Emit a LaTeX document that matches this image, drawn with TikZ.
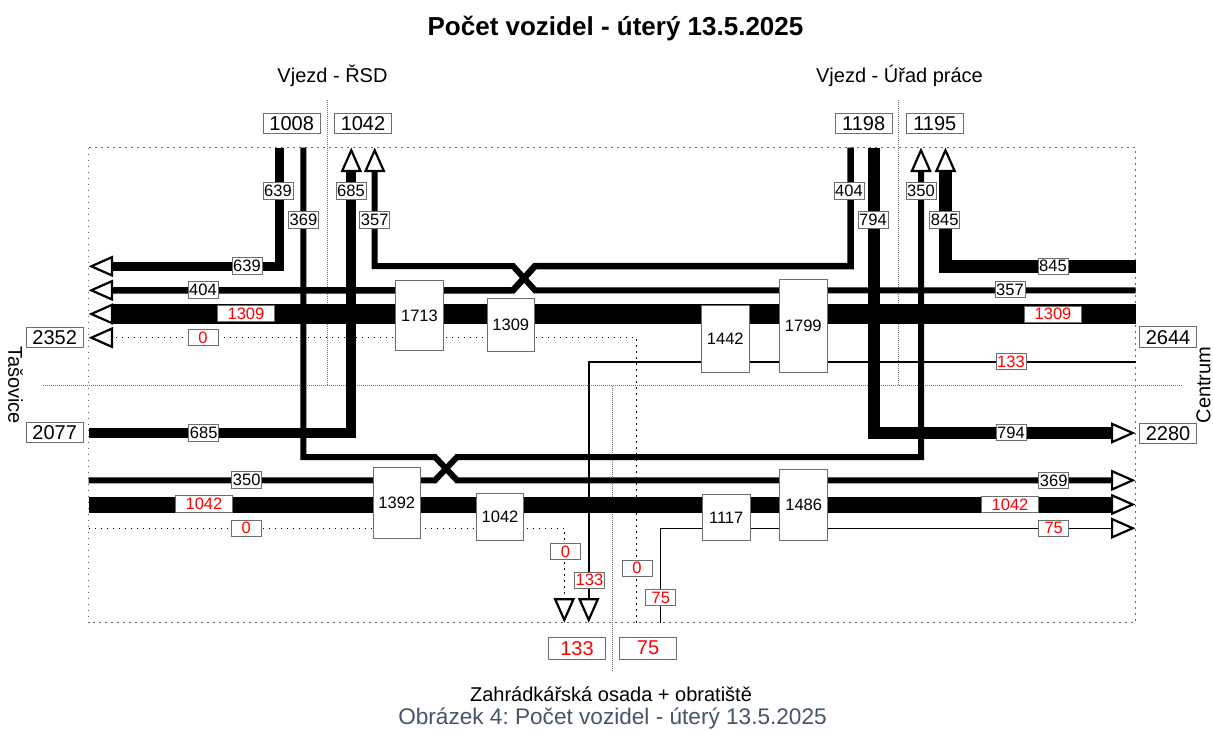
\documentclass[tikz,border=0pt]{standalone}
\usepackage{fontspec}
\setmainfont{Liberation Sans}
\usetikzlibrary{arrows.meta}
\definecolor{capblue}{RGB}{68,84,106}
\definecolor{boxgray}{RGB}{110,110,110}
\newcommand{\fs}[1]{\fontsize{#1}{#1}\selectfont}
\frenchspacing
\tikzset{
  flowtip/.style={-{Triangle[length=24.5pt 0 0,width=21pt 0 0,fill=white,line width=2.2pt]}},
  flow/.style={draw=black,line join=miter,line cap=butt},
  zero/.style={draw=black,line width=1.3pt,dash pattern=on 1.5pt off 4.5pt},
  frame/.style={draw=black!60,line width=1.2pt,dash pattern=on 1.5pt off 4.5pt},
  divider/.style={draw=black!55,line width=0.9pt,dash pattern=on 1pt off 1pt},
  jbox/.style={draw=boxgray,fill=white,line width=1pt,minimum width=47.6pt,inner sep=0pt,font=\fs{16.5}},
  lbl/.style={draw=boxgray,fill=white,line width=1pt,minimum width=30pt,minimum height=16.5pt,inner sep=0.5pt,font=\fs{16.5}},
  lblw/.style={lbl,minimum width=56.5pt,text=red},
  lblr/.style={lbl,text=red},
  cnt/.style={draw=boxgray,fill=white,line width=1pt,minimum width=57.3pt,minimum height=20.5pt,inner sep=0pt,font=\fs{20}},
  cntr/.style={cnt,minimum height=21.7pt,text=red},
  plain/.style={inner sep=0pt,font=\fs{20}}
}
\begin{document}
\begin{tikzpicture}[x=1pt,y=-1pt]
\useasboundingbox (0,0) rectangle (1213,729);
% frame and dividers
\coordinate (frTL) at (88.5,147.5);
\coordinate (frBR) at (1135.5,622.7);
\draw[frame] (frTL) rectangle (frBR);
\coordinate (dv1a) at (327,100); \coordinate (dv1b) at (327,385.5);
\coordinate (dv2a) at (898,100); \coordinate (dv2b) at (898,385.5);
\coordinate (dvha) at (43,385.5); \coordinate (dvhb) at (1183,385.5);
\coordinate (dv3a) at (612.7,385.5); \coordinate (dv3b) at (612.7,670);
\draw[divider] (dv1a) -- (dv1b);
\draw[divider] (dv2a) -- (dv2b);
\draw[divider] (dvha) -- (dvhb);
\draw[divider] (dv3a) -- (dv3b);

% coordinates of flows
\coordinate (a639s) at (279.5,147.5); \coordinate (a639c) at (279.5,266.3); \coordinate (a639e) at (88.5,266.3);
\coordinate (b369s) at (303.3,147.5); \coordinate (b369c) at (303.3,457); \coordinate (b369x1) at (435,457); \coordinate (b369x2) at (457,480.3); \coordinate (b369e) at (1135.5,480.3);
\coordinate (c350s) at (88.5,480.3); \coordinate (c350x1) at (435,480.3); \coordinate (c350x2) at (457,457); \coordinate (c350c) at (921,457); \coordinate (c350e) at (921,147.5);
\coordinate (d685s) at (88.5,433); \coordinate (d685c) at (351.3,433); \coordinate (d685e) at (351.3,147.5);
\coordinate (e357s) at (1135.5,290.3); \coordinate (e357x1) at (535,290.3); \coordinate (e357x2) at (513,266); \coordinate (e357c) at (374.7,266); \coordinate (e357e) at (374.7,147.5);
\coordinate (f404s) at (850.7,147.5); \coordinate (f404c) at (850.7,266); \coordinate (f404x1) at (535,266); \coordinate (f404x2) at (513,290.3); \coordinate (f404e) at (88.5,290.3);
\coordinate (g1309s) at (1135.5,314); \coordinate (g1309e) at (88.5,314);
\coordinate (h845s) at (1135.5,266.7); \coordinate (h845c) at (945.5,266.7); \coordinate (h845e) at (945.5,147.5);
\coordinate (i794s) at (873.7,147.5); \coordinate (i794c) at (873.7,433); \coordinate (i794e) at (1135.5,433);
\coordinate (j1042s) at (88.5,504.5); \coordinate (j1042e) at (1135.5,504.5);
\coordinate (k133s) at (1135.5,361.7); \coordinate (k133c) at (588.7,361.7); \coordinate (k133e) at (588.7,622.7);
\coordinate (l75s) at (660.5,622.7); \coordinate (l75c) at (660.5,528.2); \coordinate (l75e) at (1135.5,528.2);
\coordinate (m0s) at (636.3,622.7); \coordinate (m0c) at (636.3,337.7); \coordinate (m0e) at (88.5,337.7);
\coordinate (n0s) at (88.5,528.2); \coordinate (n0c) at (564.3,528.2); \coordinate (n0e) at (564.3,622.7);

% flows
\draw[flow,flowtip,line width=20pt] (g1309s) -- (g1309e);
\draw[flow,flowtip,line width=16pt] (j1042s) -- (j1042e);
\draw[flow,flowtip,line width=9.5pt] (a639s) -- (a639c) -- (a639e);
\draw[flow,flowtip,line width=6.5pt] (f404s) -- (f404c) -- (f404x1) -- (f404x2) -- (f404e);
\draw[flow,flowtip,line width=6pt] (e357s) -- (e357x1) -- (e357x2) -- (e357c) -- (e357e);
\draw[flow,flowtip,line width=13pt] (h845s) -- (h845c) -- (h845e);
\draw[flow,flowtip,line width=6pt] (c350s) -- (c350x1) -- (c350x2) -- (c350c) -- (c350e);
\draw[flow,flowtip,line width=6pt] (b369s) -- (b369c) -- (b369x1) -- (b369x2) -- (b369e);
\draw[flow,flowtip,line width=10pt] (d685s) -- (d685c) -- (d685e);
\draw[flow,flowtip,line width=12pt] (i794s) -- (i794c) -- (i794e);
\draw[flow,flowtip,line width=2pt] (k133s) -- (k133c) -- (k133e);
\draw[flow,flowtip,line width=1.3pt] (l75s) -- (l75c) -- (l75e);
\draw[zero,flowtip] (m0s) -- (m0c) -- (m0e);
\draw[zero,flowtip] (n0s) -- (n0c) -- (n0e);

% junction boxes
\node[jbox,minimum height=70pt] (j1713) at (419.5,315.7) {1713};
\node[jbox,minimum height=52.7pt] (j1309) at (510.8,325.3) {1309};
\node[jbox,minimum height=67.3pt] (j1442) at (725.3,338.7) {1442};
\node[jbox,minimum height=93.4pt] (j1799) at (803.3,326) {1799};
\node[jbox,minimum height=71.3pt] (j1392) at (396.8,503.3) {1392};
\node[jbox,minimum height=46.7pt] (j1042) at (500,516.7) {1042};
\node[jbox,minimum height=46.4pt] (j1117) at (726.2,517.5) {1117};
\node[jbox,minimum height=71pt] (j1486) at (803.7,504.5) {1486};

% flow labels
\node[lbl] (t639v) at (278,191) {639};
\node[lbl] (t369v) at (303.5,220) {369};
\node[lbl] (t685v) at (351,191) {685};
\node[lbl] (t357v) at (374.7,220) {357};
\node[lbl] (t639h) at (247,266) {639};
\node[lbl] (t404h) at (203,290) {404};
\node[lblw] (t1309l) at (246,313.7) {1309};
\node[lblr] (t0l) at (203,337.5) {0};
\node[lbl] (t404v) at (849,191) {404};
\node[lbl] (t794v) at (873,220) {794};
\node[lbl] (t350v) at (921,191) {350};
\node[lbl] (t845v) at (944.7,220) {845};
\node[lbl] (t845h) at (1053,266.3) {845};
\node[lbl] (t357h) at (1010,289.7) {357};
\node[lblw] (t1309r) at (1053,314.3) {1309};
\node[lblr] (t133h) at (1011,361.7) {133};
\node[lbl] (t794h) at (1011,432.7) {794};
\node[lbl] (t369h) at (1053.7,480.5) {369};
\node[lblw] (t1042r) at (1010,504.7) {1042};
\node[lblr] (t75h) at (1053.7,528.3) {75};
\node[lbl] (t685h) at (203.7,433) {685};
\node[lbl] (t350h) at (246.7,480) {350};
\node[lblw] (t1042l) at (204,504) {1042};
\node[lblr] (t0b) at (246.3,528.3) {0};
\node[lblr] (t0d1) at (565.5,551.7) {0};
\node[lblr] (t133v) at (589.5,580.3) {133};
\node[lblr] (t0d2) at (637,568.3) {0};
\node[lblr] (t75v) at (660.8,597.5) {75};

% count boxes
\node[cnt] (n1008) at (291.7,123.3) {1008};
\node[cnt] (n1042) at (363,123.3) {1042};
\node[cnt] (n1198) at (863.7,123.3) {1198};
\node[cnt] (n1195) at (934.8,123.3) {1195};
\node[cnt] (n2644) at (1168,337.2) {2644};
\node[cnt] (n2280) at (1168,433.3) {2280};
\node[cnt] (n2352) at (54.7,337.5) {2352};
\node[cnt] (n2077) at (54.7,432.5) {2077};
\node[cntr] (n133) at (577,648.2) {133};
\node[cntr] (n75) at (648,648.2) {75};

% texts
\node[inner sep=0pt,font=\fs{26}\bfseries] (title) at (615.5,28) {Počet vozidel - úterý 13.5.2025};
\node[plain] (vjl) at (332.5,76) {Vjezd - ŘSD};
\node[plain] (vjr) at (899.5,76) {Vjezd - Úřad práce};
\node[plain] (zah) at (611,694) {Zahrádkářská osada + obratiště};
\node[plain,rotate=-90] (tas) at (15.5,385) {Tašovice};
\node[plain,rotate=90] (cen) at (1203.5,385) {Centrum};
\node[inner sep=0pt,font=\fs{22.6},text=capblue] (cap) at (612.5,719) {Obrázek 4: Počet vozidel - úterý 13.5.2025};
\end{tikzpicture}
\end{document}
